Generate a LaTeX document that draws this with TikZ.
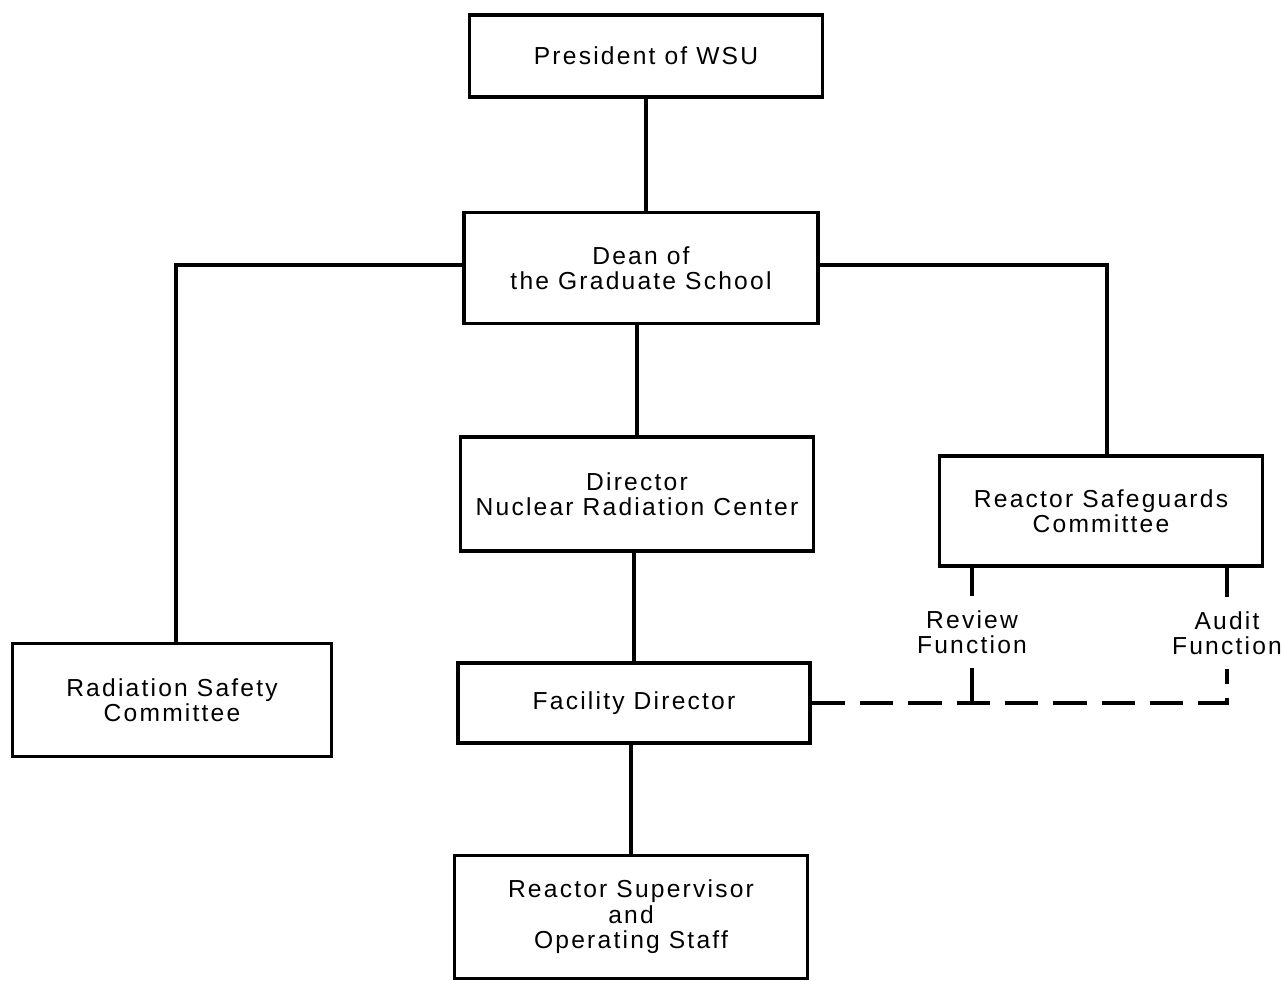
\documentclass[tikz,border=0pt]{standalone}
\usepackage{fontspec}
\setmainfont[LetterSpace=9]{Liberation Sans}
\usepackage{tikz}

\begin{document}
\begin{tikzpicture}[x=0.02cm, y=-0.02cm,
  main/.style = {draw, line width=1.9pt, align=center, inner sep=0pt,
    font=\fontsize{14}{14.5}\selectfont},
  func/.style = {align=center, inner sep=0pt, minimum height=1.42cm,
    font=\fontsize{14}{14.5}\selectfont},
  link/.style = {line width=1.9pt},
  dashlink/.style = {line width=1.9pt, dash pattern=on 19pt off 8.5pt}]
\useasboundingbox (0,0) rectangle (1286,981);
\node[main, minimum width=7.06cm, minimum height=1.64cm] (pres) at (646,56) {President of WSU};
\node[main, minimum width=7.08cm, minimum height=2.22cm] (dean) at (641,268) {Dean of\\the Graduate School};
\node[main, minimum width=7.06cm, minimum height=2.28cm] (dir) at (637,494) {Director\\Nuclear Radiation Center};
\node[main, minimum width=6.46cm, minimum height=2.2cm] (rsc) at (1101,511) {Reactor Safeguards\\Committee};
\node[main, minimum width=6.38cm, minimum height=2.26cm] (rad) at (172,700) {Radiation Safety\\Committee};
\node[main, minimum width=7.04cm, minimum height=1.6cm] (fac) at (634,703) {Facility Director};
\node[main, minimum width=7.06cm, minimum height=2.46cm] (sup) at (631,917) {Reactor Supervisor\\and\\Operating Staff};
\node[func] (review) at (972,632) {Review\\Function};
\node[func] (audit) at (1227,633) {Audit\\Function};
% solid lines
\draw[link] (pres) -- (pres |- dean.north);
\draw[link] (dean.west |- 0,265) -| ([xshift=0.08cm]rad.north);
\draw[link] (dean.east |- 0,265) -| ([xshift=0.12cm]rsc.north);
\draw[link] (dir |- dean.south) -- (dir);
\draw[link] (fac |- dir.south) -- (fac);
\draw[link] (sup |- fac.south) -- (sup);
\draw[link] (review |- rsc.south) -- (review.north);
\draw[link] (audit |- rsc.south) -- (audit.north);
\draw[link] (review.south) -- (review.south |- fac.east);
% dashed line
\draw[dashlink] (fac.east) -- (audit.south |- fac.east) -- (audit.south);
\end{tikzpicture}
\end{document}
